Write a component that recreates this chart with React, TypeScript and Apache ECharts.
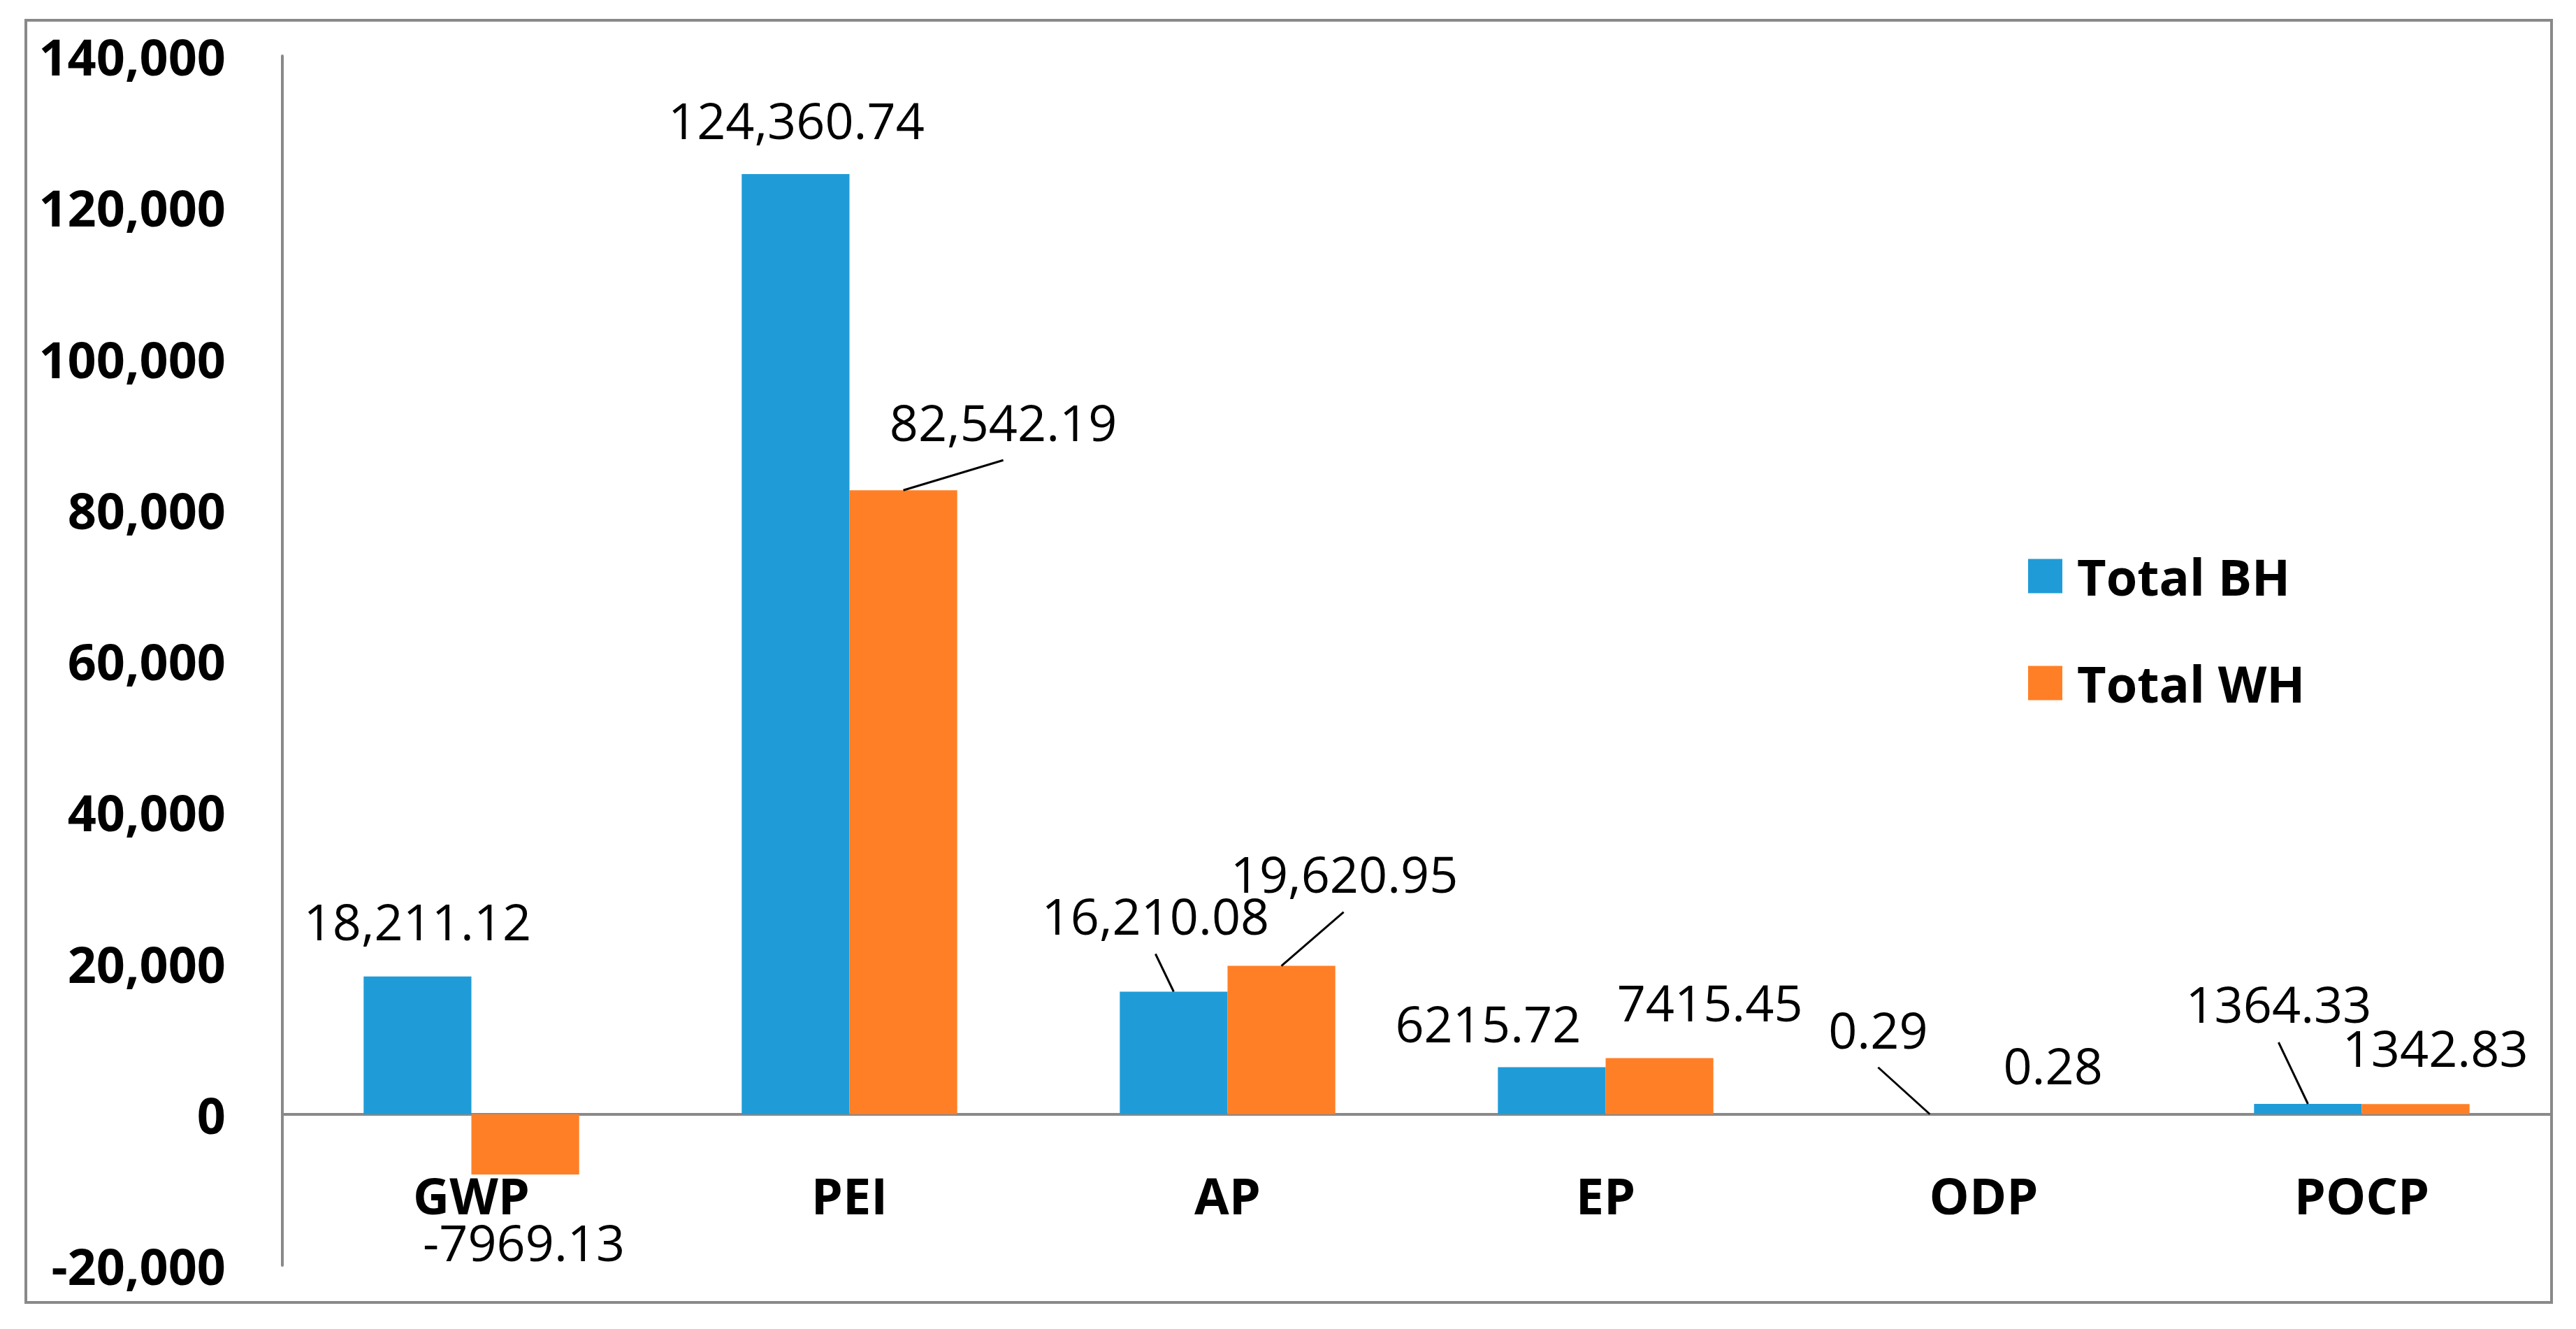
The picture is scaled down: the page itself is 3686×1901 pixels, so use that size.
import React, { useEffect, useRef } from "react";
import * as echarts from "echarts";

// ---- data ----
const categories = ["GWP", "PEI", "AP", "EP", "ODP", "POCP"];
const totalBH = [18211.12, 124360.74, 16210.08, 6215.72, 0.29, 1364.33];
const totalWH = [-7969.13, 82542.19, 19620.95, 7415.45, 0.28, 1342.83];
const bhLabels = ["18,211.12", "124,360.74", "16,210.08", "6215.72", "0.29", "1364.33"];
const whLabels = ["-7969.13", "82,542.19", "19,620.95", "7415.45", "0.28", "1342.83"];
const seriesNames = ["Total BH", "Total WH"];
const yMin = -20000;
const yMax = 140000;
const yInterval = 20000;

// ---- layout (label centre offsets from the bar end, leader line end offsets) ----
const bhLabelOffsets = [[0, -85], [1, -83], [-26, -114], [-91, -69], [-74, -127], [-42, -149]];
const whLabelOffsets = [[-2, 91], [143, -103], [90, -138], [72, -86], [22, -76], [28, -86]];
const leaderLines = [
  { side: 1, cat: 1, end: [143, -43] },
  { side: -1, cat: 2, end: [-26, -54] },
  { side: 1, cat: 2, end: [89, -77] },
  { side: -1, cat: 4, end: [-74, -67] },
  { side: -1, cat: 5, end: [-42, -88] },
];

const FONT = "'Open Sans', 'Noto Sans', sans-serif";
const FS = 72;
const LH = 56;
const GREY = "#898989";
const BLUE = "#1F9CD8";
const ORANGE = "#FF7F27";
const CAT_GAP = 0.43;
const GLYPH_FIX = 5;

function makeLayout(values: number[], offsets: number[][]) {
  return (params: any) => {
    const i = params.dataIndex;
    const r = params.rect;
    const v = values[i];
    const cx = r.x + r.width / 2;
    const ey = v >= 0 ? r.y : r.y + r.height;
    return {
      x: cx + offsets[i][0],
      y: ey + offsets[i][1] + GLYPH_FIX,
      align: "center",
      verticalAlign: "middle",
    };
  };
}

export default function App() {
  const ref = useRef<HTMLDivElement>(null);
  useEffect(() => {
    document.body.style.margin = "0";
    if (!ref.current) return;
    const chart = echarts.init(ref.current, undefined, { renderer: "svg" });
    const lineData = leaderLines.map((l) => {
      const v = l.side < 0 ? totalBH[l.cat] : totalWH[l.cat];
      return [l.cat, v, l.side, l.end[0], l.end[1]];
    });
    const option: any = {
      animation: false,
      backgroundColor: "#ffffff",
      textStyle: { fontFamily: FONT, color: "#000" },
      grid: { left: 404, right: 36, top: 80, bottom: 91, containLabel: false, outerBoundsMode: "none" },
      graphic: [
        {
          type: "rect",
          shape: { x: 37, y: 29, width: 3614, height: 1834 },
          style: { fill: "none", stroke: GREY, lineWidth: 4 },
          silent: true,
          z: -10,
        },
      ],
      legend: {
        data: seriesNames,
        orient: "vertical",
        left: 2897,
        top: 783,
        icon: "rect",
        itemWidth: 49,
        itemHeight: 49,
        itemGap: 81,
        textStyle: {
          fontFamily: FONT,
          fontSize: FS,
          fontWeight: "bold",
          color: "#000",
          lineHeight: 72,
          padding: [0, 0, 0, 16],
        },
      },
      xAxis: {
        type: "category",
        data: categories,
        axisLine: { show: true, onZero: true, lineStyle: { color: GREY, width: 4 } },
        axisTick: { show: false },
        splitLine: { show: false },
        axisLabel: {
          margin: -129,
          fontFamily: FONT,
          fontSize: FS,
          lineHeight: LH,
          fontWeight: "bold",
          color: "#000",
        },
      },
      yAxis: {
        type: "value",
        min: yMin,
        max: yMax,
        interval: yInterval,
        axisLine: { show: true, lineStyle: { color: GREY, width: 4 } },
        axisTick: { show: false },
        splitLine: { show: false },
        axisLabel: {
          margin: 81,
          fontFamily: FONT,
          fontSize: FS,
          fontWeight: "bold",
          color: "#000",
          formatter: (v: number) => v.toLocaleString("en-US"),
        },
      },
      series: [
        {
          name: seriesNames[0],
          type: "bar",
          data: totalBH,
          barGap: "0%",
          barCategoryGap: CAT_GAP * 100 + "%",
          itemStyle: { color: BLUE },
          label: {
            show: true,
            position: "top",
            fontFamily: FONT,
            fontSize: FS,
            lineHeight: LH,
            color: "#000",
            formatter: (p: any) => bhLabels[p.dataIndex],
          },
          labelLayout: makeLayout(totalBH, bhLabelOffsets),
        },
        {
          name: seriesNames[1],
          type: "bar",
          data: totalWH,
          barGap: "0%",
          barCategoryGap: CAT_GAP * 100 + "%",
          itemStyle: { color: ORANGE },
          label: {
            show: true,
            position: "top",
            fontFamily: FONT,
            fontSize: FS,
            lineHeight: LH,
            color: "#000",
            formatter: (p: any) => whLabels[p.dataIndex],
          },
          labelLayout: makeLayout(totalWH, whLabelOffsets),
        },
        {
          type: "custom",
          silent: true,
          z: 5,
          encode: { x: 0, y: 1 },
          data: lineData,
          renderItem: (params: any, api: any) => {
            const cat = api.value(0);
            const v = api.value(1);
            const side = api.value(2);
            const ex = api.value(3);
            const ey = api.value(4);
            const p = api.coord([cat, v]);
            const band = api.size([1, 0])[0];
            const bw = (band * (1 - CAT_GAP)) / 2;
            const cx = p[0] + (side * bw) / 2;
            return {
              type: "line",
              shape: { x1: cx, y1: p[1], x2: cx + ex, y2: p[1] + ey },
              style: { stroke: "#000", lineWidth: 3 },
            };
          },
        },
      ],
    };
    chart.setOption(option);
    return () => chart.dispose();
  }, []);
  return <div ref={ref} style={{ width: "3686px", height: "1901px" }} />;
}
